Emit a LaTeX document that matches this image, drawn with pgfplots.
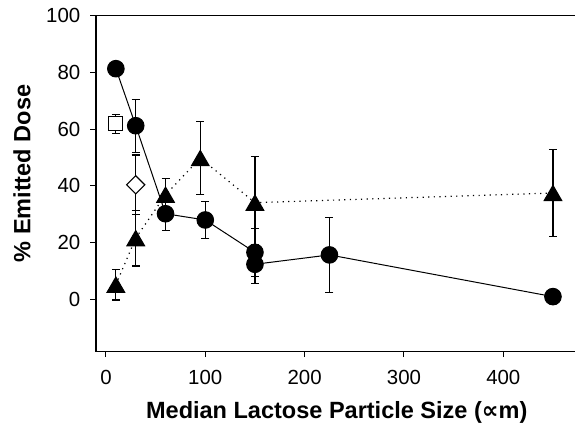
\documentclass[border=0pt]{standalone}
\usepackage{fontspec}
\setmainfont{Liberation Sans}
\newfontfamily\djv{DejaVu Sans}
\usepackage{pgfplots}
\pgfplotsset{compat=1.18}
\begin{document}
\begin{tikzpicture}
\begin{axis}[
  name=ax,
  scale only axis,
  width=481.5bp, height=336.1bp,
  xmin=-10, xmax=474.7, ymin=-18.4, ymax=100,
  xtick={0,100,200,300,400},
  ytick={0,20,40,60,80,100},
  tick pos=left,
  tick align=outside,
  major tick length=5.5bp,
  axis line style={line width=1.2bp},
  every tick/.style={black, line width=1bp},
  /pgf/number format/assume math mode=true,
  ticklabel style={font=\fontsize{20.5}{20.5}\selectfont},
  yticklabel style={inner sep=0pt, xshift=-10bp},
  xticklabel style={inner sep=0pt, yshift=-13bp},
  xlabel={\bfseries Median Lactose Particle Size ({\djv\bfseries ∝}m)},
  ylabel={\bfseries \% Emitted Dose},
  xlabel style={font=\fontsize{23.6}{23.6}\selectfont, at={(axis description cs:0.5,0)}, anchor=center, yshift=-61bp},
  ylabel style={font=\fontsize{23.6}{23.6}\selectfont, at={(axis description cs:0,0.530)}, anchor=center, yshift=74bp},
  error bars/y dir=both,
  error bars/y explicit,
  error bars/error mark options={solid, rotate=90, mark size=4bp, line width=1.1bp},
  error bars/error bar style={solid, line width=1.2bp},
]
% triangles, dotted
\addplot[black, line width=1.2bp, dash pattern=on 1.2bp off 4.4bp,
  mark=triangle*, mark size=10bp, mark options={solid, fill=black, yshift=-2.5bp}]
  coordinates {
  (10,5.2) +- (0,5.4)
  (30,21.6) +- (0,9.8)
  (60,36.9) +- (0,5.8)
  (95,49.8) +- (0,12.8)
  (150,34.1) +- (0,16.3)
  (450,37.5) +- (0,15.3)
  };
% circles, solid
\addplot[black, line width=1bp, mark=*, mark size=8.3bp, mark options={fill=black}]
  coordinates {
  (10,81.3) +- (0,0)
  (30,61.2) +- (0,9.4)
  (60,30.2) +- (0,6.0)
  (100,28.0) +- (0,6.5)
  (150,16.6) +- (0,8.5)
  (150,12.4) +- (0,6.9)
  (225,15.7) +- (0,13.3)
  (450,1.0) +- (0,0)
  };
% open square
\addplot[black, only marks, mark=square*, mark size=7bp, mark options={fill=white, line width=1.1bp}]
  coordinates {(10,61.9) +- (0,3.4)};
% open diamond
\addplot[black, only marks, mark=square*, mark size=6.4bp, mark options={fill=white, line width=1.1bp, rotate=45}]
  coordinates {(30,40.4) +- (0,10.5)};
\end{axis}
\pgfresetboundingbox
\path[use as bounding box] ([xshift=-96bp,yshift=-82.3bp]ax.south west) rectangle ([xshift=-2.5bp,yshift=15.6bp]ax.north east);
\end{tikzpicture}
\end{document}
